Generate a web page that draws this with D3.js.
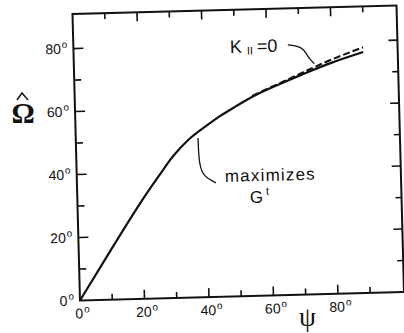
<!DOCTYPE html>
<html>
<head>
<meta charset="utf-8">
<script src="https://cdn.jsdelivr.net/npm/d3@7"></script>
<style>
  html, body { margin: 0; padding: 0; background: #fff; }
  svg { display: block; }
  text { font-family: "Liberation Sans", Arial, sans-serif; fill: #111; }
</style>
</head>
<body>
<svg id="chart" width="404" height="333"></svg>
<script>
// --- data (degrees) ---
var psiSolid   = [0, 10, 20, 27, 30, 35, 40, 45, 50, 56.6, 65, 72, 80, 89.8];
var omegaSolid = [0, 15.8, 31.2, 41.0, 45, 50.2, 54, 57.4, 60.4, 64, 67.6, 70.4, 73.4, 76.5];

// K_par = 0 case (dashed), only visible over the upper part
var psiDash   = [55, 65, 72, 80, 89.8];
var omegaDash = [63.5, 67.9, 71.0, 74.4, 78.0];

var xTicks = [0, 10, 20, 30, 40, 50, 60, 70, 80, 90];
var yTicks = [0, 10, 20, 30, 40, 50, 60, 70, 80];
var xLabels = [0, 20, 40, 60, 80];
var yLabels = [0, 20, 40, 60, 80];

// annotation leaders, in data space
var kLeader   = [[66.5, 79.4], [71.2, 78.6], [72.4, 75.7], [74.5, 73.2]];
var maxLeader = [[37.9, 50.6], [38.0, 42.0], [39.4, 38.2], [43.1, 36.2]];

// --- layout ---
var x0 = 80, y0 = 300.5;
var xMax = 100.5, yMax = 91;
var x = d3.scaleLinear().domain([0, xMax]).range([x0, x0 + 3.225 * xMax]);
var y = d3.scaleLinear().domain([0, yMax]).range([y0, y0 - 3.15 * yMax]);

var svg = d3.select("#chart");
// the original page is scanned slightly askew
var g = svg.append("g").attr("transform", "rotate(-1.5," + x0 + "," + y0 + ")");

// frame
g.append("rect")
  .attr("x", x(0)).attr("y", y(yMax))
  .attr("width", x(xMax) - x(0)).attr("height", y(0) - y(yMax))
  .attr("fill", "none").attr("stroke", "#111").attr("stroke-width", 2);

// ticks, all pointing inward
function tickLen(v) { return v % 20 === 0 ? 9 : 6; }
xTicks.filter(d => d > 0).forEach(function(d) {
  g.append("line").attr("x1", x(d)).attr("x2", x(d))
    .attr("y1", y(0)).attr("y2", y(0) - tickLen(d))
    .attr("stroke", "#111").attr("stroke-width", 1.6);
  g.append("line").attr("x1", x(d)).attr("x2", x(d))
    .attr("y1", y(yMax)).attr("y2", y(yMax) + tickLen(d))
    .attr("stroke", "#111").attr("stroke-width", 1.6);
});
yTicks.filter(d => d > 0).forEach(function(d) {
  g.append("line").attr("x1", x(0)).attr("x2", x(0) + tickLen(d) + 1)
    .attr("y1", y(d)).attr("y2", y(d))
    .attr("stroke", "#111").attr("stroke-width", 1.6);
  g.append("line").attr("x1", x(xMax)).attr("x2", x(xMax) - tickLen(d))
    .attr("y1", y(d)).attr("y2", y(d))
    .attr("stroke", "#111").attr("stroke-width", 1.6);
});

// tick labels with a raised "o" for degrees
xLabels.forEach(function(d) {
  var s = String(d);
  var t = g.append("text")
    .attr("x", x(d) - s.length * 0.556 * 14 / 2 - 1)
    .attr("y", y(0) + 18)
    .attr("font-size", 14);
  t.append("tspan").text(s);
  t.append("tspan").attr("font-size", 10).attr("dx", 1).attr("dy", -6).text("o");
});
yLabels.forEach(function(d) {
  var t = g.append("text")
    .attr("x", x(0) - 6)
    .attr("y", y(d) + 5)
    .attr("text-anchor", "end")
    .attr("font-size", 14);
  t.append("tspan").text(String(d));
  t.append("tspan").attr("font-size", 10).attr("dx", 1).attr("dy", -6).text("o");
});

// curves
var line = d3.line().x(d => x(d[0])).y(d => y(d[1])).curve(d3.curveNatural);
g.append("path")
  .attr("d", line(d3.zip(psiSolid, omegaSolid)))
  .attr("fill", "none").attr("stroke", "#111").attr("stroke-width", 2.2);
g.append("path")
  .attr("d", line(d3.zip(psiDash, omegaDash)))
  .attr("fill", "none").attr("stroke", "#111").attr("stroke-width", 2)
  .attr("stroke-dasharray", "7,3");

// annotations
var leader = d3.line().x(d => x(d[0])).y(d => y(d[1])).curve(d3.curveBasis);
g.append("path").attr("d", leader(kLeader))
  .attr("fill", "none").attr("stroke", "#111").attr("stroke-width", 1.3);
g.append("path").attr("d", leader(maxLeader))
  .attr("fill", "none").attr("stroke", "#111").attr("stroke-width", 1.3);

var k = g.append("text").attr("x", x(48.5)).attr("y", y(77.3)).attr("font-size", 18);
k.append("tspan").text("K");
k.append("tspan").attr("font-size", 11).attr("dx", 5).attr("dy", 2).text("II");
k.append("tspan").attr("dx", 4).attr("dy", -2).text("=0");

g.append("text").attr("x", x(45.9)).attr("y", y(36.4))
  .attr("font-size", 17).attr("letter-spacing", 1.2).text("maximizes");
var gt = g.append("text").attr("x", x(53.5)).attr("y", y(29.5)).attr("font-size", 17);
gt.append("tspan").text("G");
gt.append("tspan").attr("font-size", 11).attr("dx", 3).attr("dy", -8).text("t");

// axis titles: Omega with a hat drawn as a small chevron above it
var omX = 23, omY = 123;
svg.append("text").attr("x", omX).attr("y", omY)
  .attr("text-anchor", "middle")
  .style("font-family", "'Liberation Serif', 'Times New Roman', serif")
  .attr("font-size", 29).attr("font-weight", "bold").text("\u03A9");
svg.append("path")
  .attr("d", d3.line()([[omX - 6, omY - 23], [omX - 1, omY - 30], [omX + 5, omY - 23]]))
  .attr("fill", "none").attr("stroke", "#111").attr("stroke-width", 1.4);
svg.append("text").attr("x", 307.5).attr("y", 326)
  .attr("text-anchor", "middle")
  .style("font-family", "'Liberation Serif', 'Times New Roman', serif")
  .attr("font-size", 27).text("\u03C8");
</script>
</body>
</html>
